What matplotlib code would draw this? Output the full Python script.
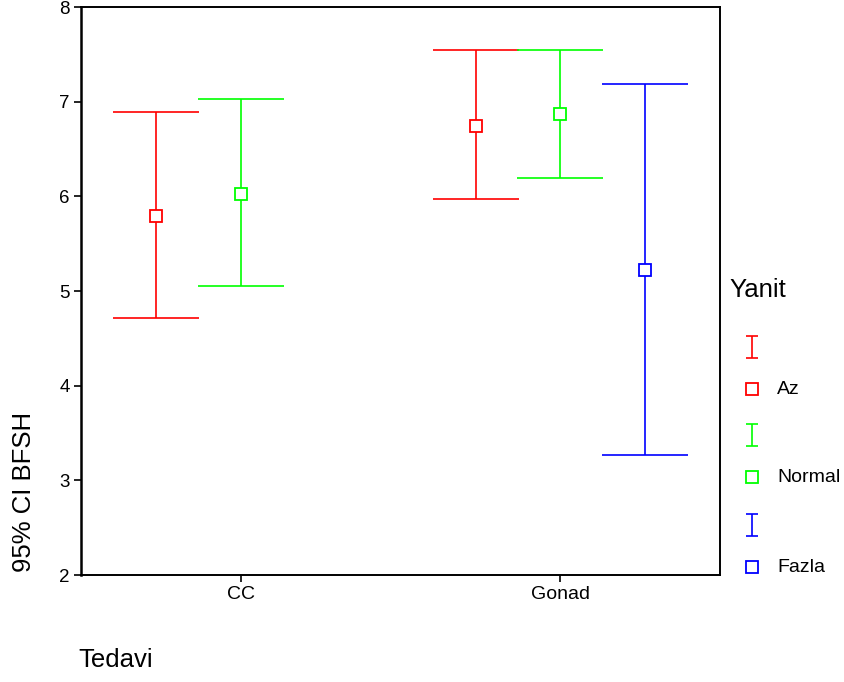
import matplotlib
matplotlib.use('Agg')
import matplotlib.pyplot as plt

plt.rcParams['font.family'] = ['Liberation Sans', 'DejaVu Sans']

# group means and 95% CI bounds of BFSH by treatment and response
groups = ['CC', 'Gonad']
series = ['Az', 'Normal', 'Fazla']
colors = ['#ff0000', '#00ff00', '#0000ff']
means = {'Az': [5.79, 6.74], 'Normal': [6.02, 6.87], 'Fazla': [None, 5.22]}
lower = {'Az': [4.71, 5.97], 'Normal': [5.05, 6.19], 'Fazla': [None, 3.27]}
upper = {'Az': [6.89, 7.55], 'Normal': [7.03, 7.55], 'Fazla': [None, 7.19]}

W, H = 844, 682
fig = plt.figure(figsize=(W / 100, H / 100), dpi=100)
ax = fig.add_axes([81 / W, 1 - 575 / H, (720 - 81) / W, (575 - 7) / H])

offset = 0.265
for k, (name, c) in enumerate(zip(series, colors)):
    for g in range(len(groups)):
        m = means[name][g]
        if m is None:
            continue
        x = g + 1 + (k - 1) * offset
        ax.errorbar([x], [m], yerr=[[m - lower[name][g]], [upper[name][g] - m]],
                    fmt='none', ecolor=c, elinewidth=1.2, capsize=31, capthick=1.2)
        ax.plot([x], [m], marker='s', ms=8.5, mfc='white', mec=c, mew=1.3,
                linestyle='none', zorder=3)

ax.set_xlim(0.5, 2.5)
ax.set_ylim(2, 8)
ax.set_xticks([1, 2])
ax.set_xticklabels(groups, fontsize=14)
ax.set_yticks(range(2, 9))
ax.set_yticklabels([str(v) for v in range(2, 9)], fontsize=13.5)
ax.tick_params(direction='out', length=5, width=1.2, pad=3)
for s in ax.spines.values():
    s.set_linewidth(1.4)
ax.spines['left'].set_linewidth(1.8)

fig.text(24 / W, 1 - 492 / H, '95% CI BFSH', rotation=90, fontsize=18.5,
         ha='center', va='center')
fig.text(78 / W, 1 - 660 / H, 'Tedavi', fontsize=18.5, ha='left', va='center')

# legend drawn on an overlay in pixel coordinates
lg = fig.add_axes([0, 0, 1, 1])
lg.set_xlim(0, W)
lg.set_ylim(H, 0)
lg.axis('off')
lg.text(729, 290, 'Yanit', fontsize=18.5, ha='left', va='center')
rows = [347, 435, 525]
for name, c, y0 in zip(series, colors, rows):
    lg.errorbar([752], [y0], yerr=[11], fmt='none', ecolor=c, elinewidth=1.2,
                capsize=4.3, capthick=1.2)
    sq = y0 + 42
    lg.plot([752], [sq], marker='s', ms=8, mfc='white', mec=c, mew=1.3,
            linestyle='none')
    lg.text(777, sq, name, fontsize=14, ha='left', va='center')

fig.savefig('out.png', dpi=100)
